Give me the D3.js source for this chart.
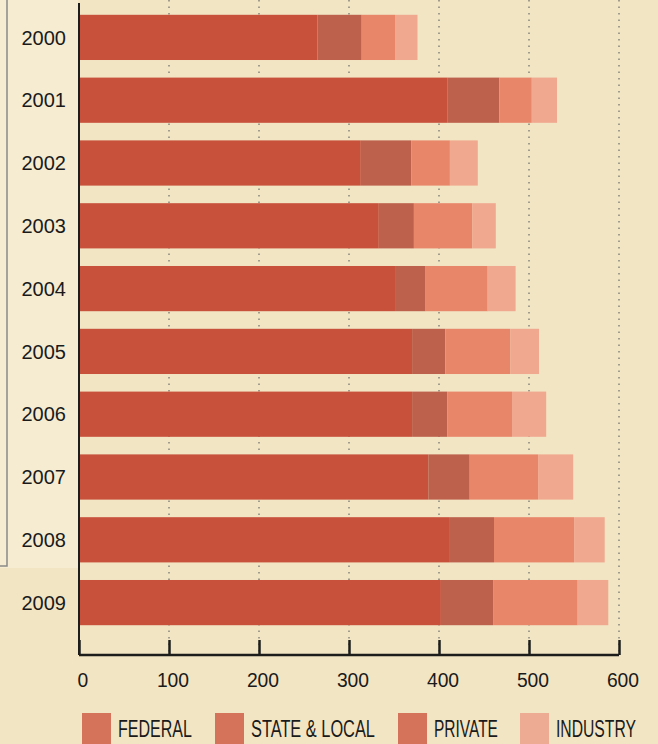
<!DOCTYPE html>
<html>
<head>
<meta charset="utf-8">
<script src="https://cdn.jsdelivr.net/npm/d3@7"></script>
<style>
  html, body { margin: 0; padding: 0; background: #f2e5c4; }
  svg { display: block; }
</style>
</head>
<body>
<svg id="chart"></svg>
<script>
// Data (billions)
const years = ["2000", "2001", "2002", "2003", "2004", "2005", "2006", "2007", "2008", "2009"];
const federal    = [264, 408, 312, 332, 351, 369, 369, 387, 411, 401];
const stateLocal = [ 49,  58,  56,  39,  33,  37,  39,  46,  49,  58];
const privateSrc = [ 37,  36,  43,  65,  69,  72,  72,  76,  89,  94];
const industry   = [ 25,  28,  31,  26,  31,  32,  38,  39,  34,  34];
const seriesKeys = ["federal", "state", "private", "industry"];
const seriesLabels = ["FEDERAL", "STATE & LOCAL", "PRIVATE", "INDUSTRY"];
const xTicks = [0, 100, 200, 300, 400, 500, 600];

const W = 658, H = 744;
const barColors = { federal: "#c8513c", state: "#bd614c", private: "#e8866a", industry: "#f0a88f" };
const swatchColors = ["#d4735a", "#d4735a", "#d4735a", "#eeab93"];

const rows = years.map((y, i) => ({
  year: y,
  federal: federal[i],
  state: stateLocal[i],
  private: privateSrc[i],
  industry: industry[i],
}));

const svg = d3.select("#chart").attr("width", W).attr("height", H);

// slightly lighter panel on the left, as on the page
svg.append("rect").attr("x", 0).attr("y", 0).attr("width", 78).attr("height", 568).attr("fill", "#f5ecd2");
svg.append("path")
  .attr("d", "M7,0 V566 H0")
  .attr("fill", "none")
  .attr("stroke", "#8a8a86")
  .attr("stroke-width", 1.5);

// Scales
const x = d3.scaleLinear().domain([0, 600]).range([79, 619]);
const y = d3.scaleBand().domain(years).range([6, 634]).paddingInner(0.28).paddingOuter(0.14);
const axisY = 655;

// dotted grid lines
svg.append("g")
  .selectAll("line")
  .data(xTicks.slice(1))
  .join("line")
  .attr("x1", d => x(d))
  .attr("x2", d => x(d))
  .attr("y1", 0)
  .attr("y2", axisY)
  .attr("stroke", "#8c8a80")
  .attr("stroke-width", 1.6)
  .attr("stroke-dasharray", "1.5,5");

// Stacked bars
const stacked = d3.stack().keys(seriesKeys)(rows);

svg.append("g")
  .selectAll("g")
  .data(stacked)
  .join("g")
  .attr("fill", d => barColors[d.key])
  .selectAll("rect")
  .data(d => d)
  .join("rect")
  .attr("x", d => x(d[0]) + 1)
  .attr("y", d => y(d.data.year))
  .attr("width", d => x(d[1]) - x(d[0]))
  .attr("height", y.bandwidth());

// Y axis line + labels
svg.append("line")
  .attr("x1", x(0)).attr("x2", x(0))
  .attr("y1", 3).attr("y2", axisY)
  .attr("stroke", "#1d1d1b")
  .attr("stroke-width", 2);

svg.append("g")
  .selectAll("text")
  .data(years)
  .join("text")
  .attr("x", 66)
  .attr("y", d => y(d) + y.bandwidth() / 2)
  .attr("dy", "0.36em")
  .attr("text-anchor", "end")
  .style("font-family", "'Liberation Sans', Arial, sans-serif")
  .style("font-size", "20px")
  .style("fill", "#1a1a1a")
  .text(d => d);

// X axis (ticks point up)
const xAxis = svg.append("g")
  .attr("transform", `translate(0,${axisY})`)
  .call(d3.axisTop(x).tickValues(xTicks).tickSize(15).tickFormat(""));
xAxis.select(".domain")
  .attr("d", `M${x(0)},0H${x(600)}`)
  .attr("stroke", "#1d1d1b")
  .attr("stroke-width", 2.5);
xAxis.selectAll(".tick line").attr("stroke", "#1d1d1b").attr("stroke-width", 2.5);

// condensed look: squeeze text horizontally with a transform
const squeeze = (sel, sx) => sel.attr("transform", function () {
  const b = this.getBBox();
  const cx = +this.getAttribute("x");
  return `translate(${cx},0) scale(${sx},1) translate(${-cx},0)`;
});

svg.append("g")
  .selectAll("text")
  .data(xTicks)
  .join("text")
  .attr("x", d => x(d) + 4)
  .attr("y", 687)
  .attr("text-anchor", "middle")
  .style("font-family", "'Liberation Sans', Arial, sans-serif")
  .style("font-size", "21px")
  .style("fill", "#1a1a1a")
  .text(d => d)
  .call(squeeze, 0.92);

// Legend
const legendX = [82, 215, 398, 520];
const legendTextW = [74, 124, 64, 80];
const legend = svg.append("g")
  .selectAll("g")
  .data(seriesLabels)
  .join("g")
  .attr("transform", (d, i) => `translate(${legendX[i]},713)`);

legend.append("rect")
  .attr("width", 29)
  .attr("height", 31)
  .attr("fill", (d, i) => swatchColors[i]);

legend.append("text")
  .attr("x", 36)
  .attr("y", 24)
  .style("font-family", "'Liberation Sans', Arial, sans-serif")
  .style("font-size", "23px")
  .style("fill", "#1a1a1a")
  .text(d => d)
  .attr("transform", function (d, i) {
    const sx = legendTextW[i] / this.getComputedTextLength();
    return `translate(36,0) scale(${sx},1) translate(-36,0)`;
  });
</script>
</body>
</html>
